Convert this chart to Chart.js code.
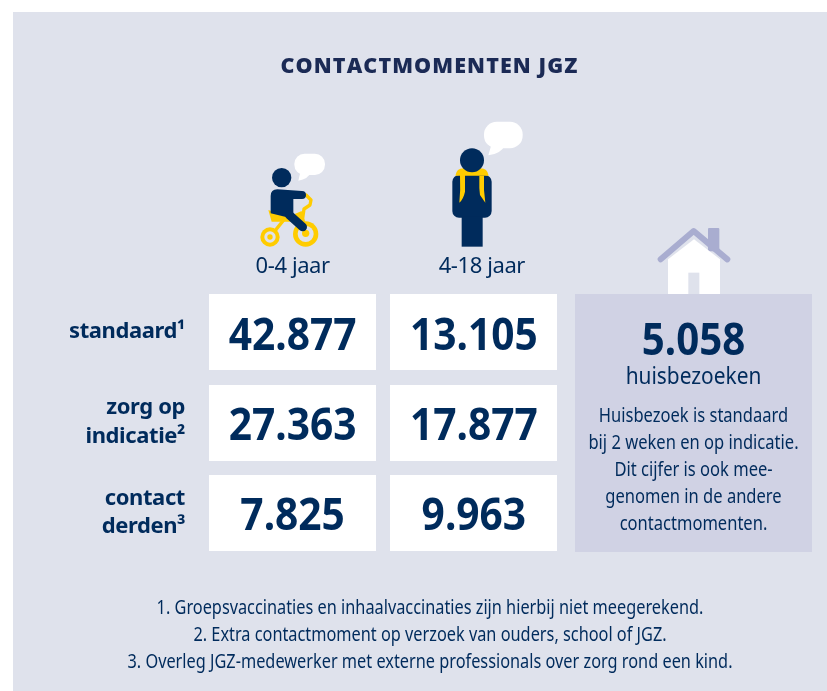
<!DOCTYPE html>
<html><head><meta charset="utf-8">
<style>html,body{margin:0;padding:0;background:#fff}canvas{display:block}</style>
<script src="https://cdn.jsdelivr.net/npm/chart.js@4/dist/chart.umd.min.js"></script>
</head><body><canvas id="c" width="827" height="691"></canvas>
<script>
const columns = ['0-4 jaar', '4-18 jaar'];
const rows = ['standaard¹', 'zorg op indicatie²', 'contact derden³'];
const values04 = [42877, 27363, 7825];
const values418 = [13105, 17877, 9963];
const homeVisits = 5058;
const homeVisitsLabel = 'huisbezoeken';
const homeVisitsText = ['Huisbezoek is standaard', 'bij 2 weken en op indicatie.', 'Dit cijfer is ook mee-', 'genomen in de andere', 'contactmomenten.'];
const footnotes = ['1. Groepsvaccinaties en inhaalvaccinaties zijn hierbij niet meegerekend.', '2. Extra contactmoment op verzoek van ouders, school of JGZ.', '3. Overleg JGZ-medewerker met externe professionals over zorg rond een kind.'];
const chartTitle = 'CONTACTMOMENTEN JGZ';

const NAVY = '#002b5c', BG = '#dfe2ec', PANEL = '#d0d2e4', YELLOW = '#ffcc00', ROOF = '#a9add0';
const FONT = '"Noto Sans"';
const fmt = v => String(v).replace(/\B(?=(\d{3})+$)/g, '.');

const cell = document.createElement('canvas');
cell.width = 167; cell.height = 76;
const cc = cell.getContext('2d'); cc.fillStyle = '#fff'; cc.fillRect(0, 0, 167, 76);

function text(ctx, s, cx, y, font, sx, color) {
  ctx.save();
  ctx.font = font; ctx.fillStyle = color || NAVY; ctx.textAlign = 'center'; ctx.textBaseline = 'alphabetic';
  ctx.translate(cx, y); ctx.scale(sx, 1); ctx.fillText(s, 0, 0);
  ctx.restore();
}
function bubble(ctx, cx, cy, rx, ry, tx, ty) {
  ctx.fillStyle = '#fff';
  ctx.beginPath(); ctx.roundRect(cx - rx, cy - ry, 2 * rx, 2 * ry, ry * .95); ctx.fill();
  ctx.beginPath(); ctx.moveTo(cx - rx * .55, cy + ry * .4); ctx.lineTo(tx, ty); ctx.quadraticCurveTo(cx - rx * .1, ty - 4, cx + rx * .1, cy + ry * .7); ctx.fill();
}
function circle(ctx, x, y, r, color) { ctx.fillStyle = color; ctx.beginPath(); ctx.arc(x, y, r, 0, 7); ctx.fill(); }
function poly(ctx, pts, color) { ctx.fillStyle = color; ctx.beginPath(); pts.forEach((p, i) => i ? ctx.lineTo(p[0], p[1]) : ctx.moveTo(p[0], p[1])); ctx.closePath(); ctx.fill(); }
function stroke(ctx, pts, color, w, cap) {
  ctx.strokeStyle = color; ctx.lineWidth = w; ctx.lineCap = cap || 'round'; ctx.lineJoin = 'round';
  ctx.beginPath(); pts.forEach((p, i) => i ? ctx.lineTo(p[0], p[1]) : ctx.moveTo(p[0], p[1])); ctx.stroke();
}
function drawIcons(ctx) {
  ctx.save(); ctx.translate(230, 110); ctx.scale(1 / 3, 1 / 3);
  bubble(ctx, 239, 163, 46, 32, 205, 212);
  poly(ctx, [[115, 300], [175, 320], [215, 303], [222, 335], [150, 335], [125, 335]], YELLOW);
  stroke(ctx, [[120, 381], [165, 325]], YELLOW, 10);
  stroke(ctx, [[228, 255], [243, 270], [240, 285], [222, 297], [218, 325], [227, 370]], YELLOW, 10);
  circle(ctx, 120, 381, 29, YELLOW); circle(ctx, 120, 381, 17, BG); circle(ctx, 120, 381, 8, YELLOW);
  circle(ctx, 227, 372, 38, YELLOW); circle(ctx, 227, 372, 24, BG); circle(ctx, 227, 370, 11, YELLOW);
  circle(ctx, 155, 203, 29, NAVY);
  ctx.fillStyle = NAVY; ctx.beginPath(); ctx.moveTo(122, 310); ctx.lineTo(122, 258); ctx.quadraticCurveTo(122, 238, 142, 238);
  ctx.lineTo(216, 243); ctx.arc(216, 255, 12, -1.57, 1.57); ctx.lineTo(190, 267); ctx.lineTo(190, 325); ctx.lineTo(165, 320); ctx.closePath(); ctx.fill();
  stroke(ctx, [[178, 315], [218, 351]], NAVY, 26);
  bubble(ctx, 820, 75, 58, 40, 775, 136);
  ctx.fillStyle = NAVY; ctx.beginPath(); ctx.roundRect(667, 195, 118, 128, 20); ctx.fill();
  ctx.fillRect(695, 320, 63, 90);
  ctx.fillStyle = YELLOW; ctx.beginPath(); ctx.moveTo(676, 197); ctx.quadraticCurveTo(680, 175, 700, 175); ctx.lineTo(752, 175); ctx.quadraticCurveTo(772, 175, 776, 197);
  ctx.lineTo(705, 197); ctx.lineTo(705, 245); ctx.quadraticCurveTo(700, 268, 688, 278); ctx.quadraticCurveTo(692, 240, 690, 197); ctx.closePath(); ctx.fill();
  poly(ctx, [[748, 197], [762, 197], [762, 240], [766, 278], [750, 255], [748, 235]], YELLOW);
  circle(ctx, 726, 151, 36, NAVY);
  ctx.restore();
  ctx.save(); ctx.translate(560, 220); ctx.scale(1 / 3, 1 / 3);
  ctx.fillStyle = ROOF; ctx.beginPath(); ctx.roundRect(444, 24, 34, 70, 3); ctx.fill();
  poly(ctx, [[324, 222], [324, 118], [402, 58], [480, 118], [480, 222]], '#fff');
  stroke(ctx, [[302, 118], [401, 33], [502, 118]], ROOF, 18);
  ctx.fillStyle = BG; ctx.fillRect(385, 158, 33, 64);
  ctx.restore();
}
const infographic = {
  id: 'infographic',
  beforeDraw(chart) {
    const ctx = chart.ctx;
    ctx.fillStyle = '#fff'; ctx.fillRect(0, 0, 827, 691);
    ctx.fillStyle = BG; ctx.fillRect(13, 12, 814, 679);
    drawIcons(ctx);
    ctx.fillStyle = PANEL; ctx.fillRect(575, 294, 237, 258);
    ctx.letterSpacing = '-0.4px';
  },
  beforeDatasetsDraw(chart) { chart.ctx.letterSpacing = '0px'; },
  afterDatasetsDraw(chart) {
    const ctx = chart.ctx;
    chart.data.datasets.forEach((ds, i) => chart.getDatasetMeta(i).data.forEach((pt, j) => {
      text(ctx, fmt(ds.data[j].v), pt.x, pt.y + 17.5, 'bold 44px ' + FONT, .925);
    }));
    ctx.save(); ctx.letterSpacing = '1.1px';
    text(ctx, chartTitle, 429.5, 72.5, '800 21.5px "Open Sans"', 1, '#1b2a55');
    ctx.restore();
    text(ctx, fmt(homeVisits), 693.5, 355, 'bold 44px ' + FONT, .915);
    text(ctx, homeVisitsLabel, 693.5, 383.5, '24px ' + FONT, .87);
    homeVisitsText.forEach((s, i) => text(ctx, s, 693.5, 422 + i * 27, '19px ' + FONT, .87));
    footnotes.forEach((s, i) => text(ctx, s, 430, 614 + i * 27, '19px ' + FONT, .858));
  }
};
new Chart(document.getElementById('c'), {
  type: 'scatter',
  plugins: [infographic],
  data: { datasets: columns.map((c, k) => ({
    label: c,
    data: (k ? values418 : values04).map((v, r) => ({ x: c, y: rows[r], v })),
    pointStyle: cell, pointRadius: 10, pointHoverRadius: 10, clip: false
  })) },
  options: {
    responsive: false, animation: false, events: [],
    layout: { padding: { top: 230, left: 0, right: 262.5, bottom: 133 } },
    plugins: { legend: { display: false }, tooltip: { enabled: false }, title: { display: false } },
    scales: {
      x: { type: 'category', labels: columns, position: 'top', offset: true,
        grid: { display: false, drawTicks: false }, border: { display: false },
        afterFit: s => { s.height = 57; },
        ticks: { autoSkip: false, maxRotation: 0, padding: 7, color: NAVY, font: { family: FONT, size: 22 },
          callback(v, i) { return (i ? '   ' : '') + this.getLabelForValue(v); } } },
      y: { type: 'category', labels: rows, offset: true,
        grid: { display: false, drawTicks: false }, border: { display: false },
        afterFit: s => { s.width = 202; },
        ticks: { autoSkip: false, padding: 17, color: NAVY, font: { family: FONT, size: 22, weight: 'bold', lineHeight: 1.3 },
          callback(v) { const t = this.getLabelForValue(v), i = t.lastIndexOf(' '); return i < 0 ? t : [t.slice(0, i), t.slice(i + 1)]; } } }
    }
  }
});
</script></body></html>
